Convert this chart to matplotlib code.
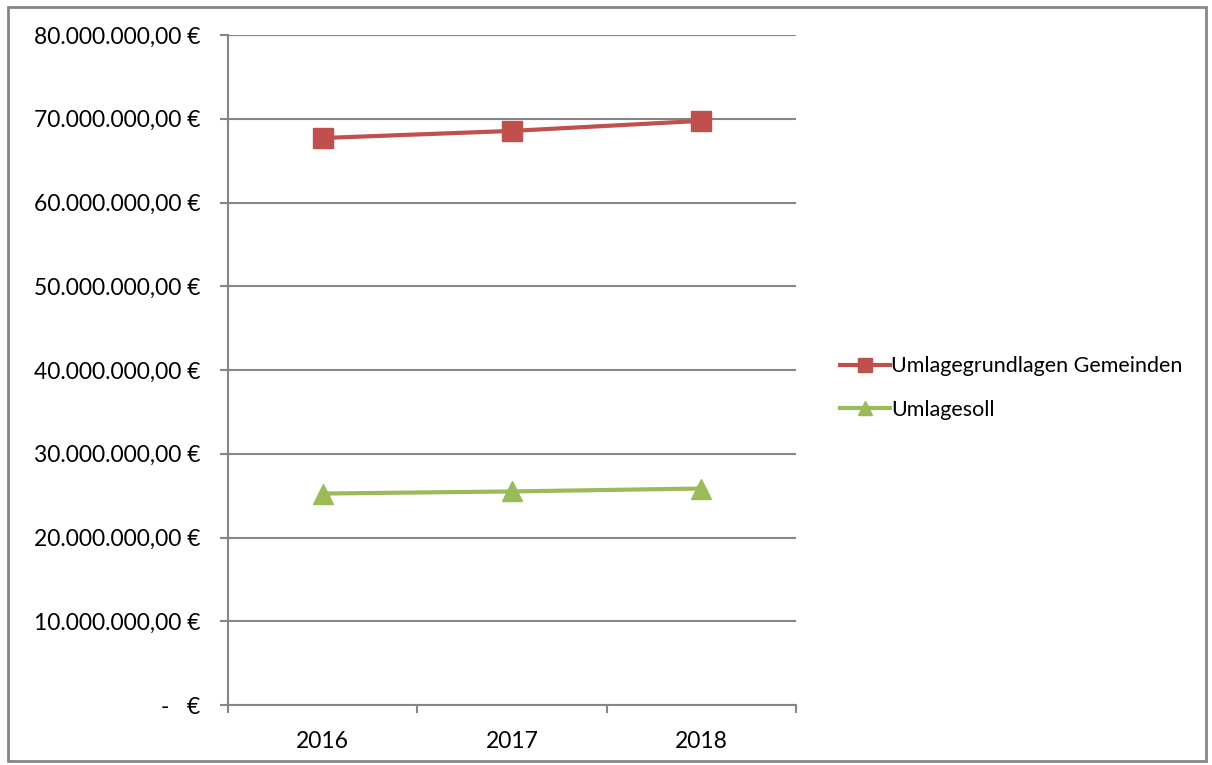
import numpy as np
import matplotlib.pyplot as plt
from matplotlib.patches import Rectangle
from matplotlib.ticker import FuncFormatter

plt.rcParams['font.family'] = ['Lato', 'DejaVu Sans']

jahre = ['2016', '2017', '2018']
umlagegrundlagen = [67700000, 68550000, 69750000]
umlagesoll = [25250000, 25500000, 25850000]

rot = '#C0504D'
gruen = '#9BBB59'
grau = '#868686'


def euro(v, pos=None):
    if v == 0:
        return '-   €'
    s = f'{v:,.2f}'
    s = s.replace(',', 'X').replace('.', ',').replace('X', '.')
    return s + ' €'


fig = plt.figure(figsize=(12.12, 7.65), dpi=100)
ax = fig.add_axes([228 / 1212, 1 - 705 / 765, (796 - 228) / 1212, (705 - 35) / 765])

x = np.arange(len(jahre))
ax.plot(x, umlagegrundlagen, color=rot, lw=3, marker='s', ms=14,
        label='Umlagegrundlagen Gemeinden')
ax.plot(x, umlagesoll, color=gruen, lw=3, marker='^', ms=15,
        label='Umlagesoll')

ax.set_xlim(-0.5, 2.5)
ax.set_ylim(0, 80000000)
ax.set_yticks(np.arange(0, 80000001, 10000000))
ax.yaxis.set_major_formatter(FuncFormatter(euro))
ax.yaxis.grid(True, color=grau, lw=1.5)
ax.set_axisbelow(True)

ax.set_xticks(x)
ax.set_xticklabels(jahre)
ax.set_xticks([-0.5, 0.5, 1.5, 2.5], minor=True)
ax.tick_params(axis='x', which='major', length=0, pad=19, labelsize=16.5)
ax.tick_params(axis='x', which='minor', length=6, width=1.5, color=grau)
ax.tick_params(axis='y', length=6, width=1.5, color=grau, pad=14, labelsize=16.5)

for s in ['top', 'right']:
    ax.spines[s].set_visible(False)
for s in ['left', 'bottom']:
    ax.spines[s].set_color(grau)
    ax.spines[s].set_linewidth(1.5)

fig.legend(loc='center left', bbox_to_anchor=(829 / 1212, 1 - 388 / 765),
           frameon=False, fontsize=15.5, handlelength=2.35, handletextpad=0.05,
           labelspacing=1.1, borderpad=0, markerscale=0.7)

fig.patches.append(Rectangle((8 / 1212, 4 / 765), 1198 / 1212, 754 / 765,
                             transform=fig.transFigure, fill=False,
                             edgecolor=grau, lw=2))

fig.savefig('out.png', dpi=100)
